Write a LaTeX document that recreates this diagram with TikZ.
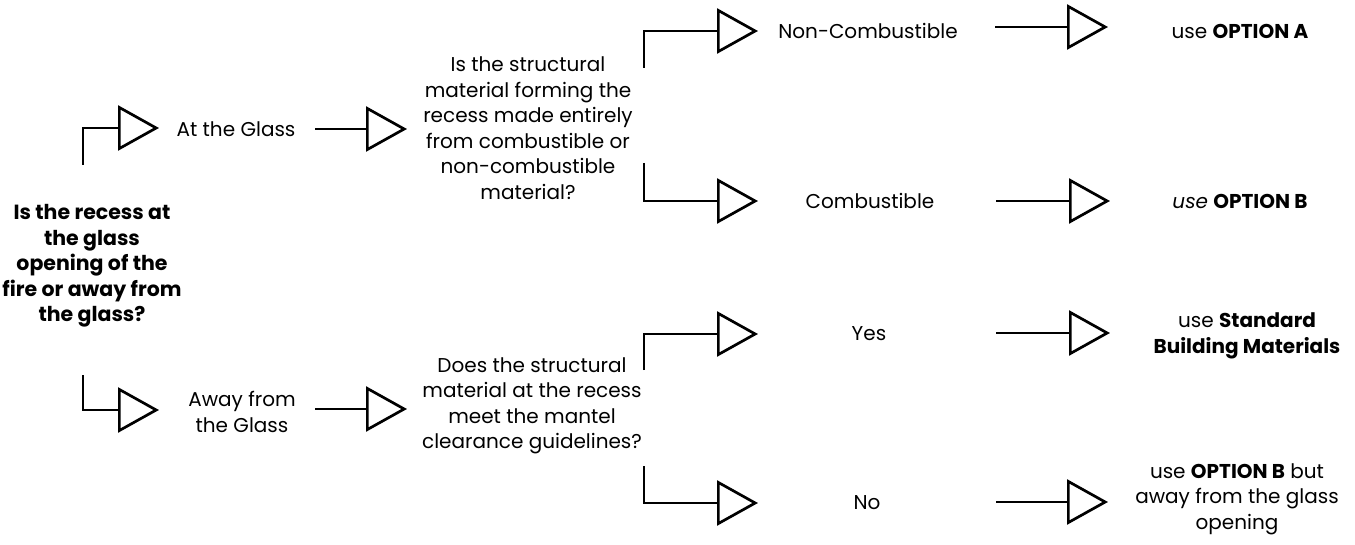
\documentclass[tikz,border=0pt]{standalone}
\usepackage{fontspec}
\setmainfont{Poppins}
\usetikzlibrary{arrows.meta}
\tikzset{
  conn/.style={draw=black, line width=2.7pt, line join=miter,
    -{Triangle[open,length=41pt,width=45pt,line join=miter]}},
  txt/.style={align=center, inner sep=0pt, font=\fontsize{20}{25.5}\selectfont},
  btxt/.style={txt, font=\fontsize{20.5}{25.5}\selectfont\bfseries},
}
\begin{document}
\begin{tikzpicture}[x=1pt,y=-1pt]
\useasboundingbox (0,0) rectangle (1355,545);
% text nodes
\node[btxt] (q0) at (92,266) {Is the recess at\\the glass\\opening of the\\fire or away from\\the glass?};
\node[txt] (a1) at (236,129) {At the Glass};
\node[txt] (a2) at (242,412) {Away from\\the Glass};
\node[txt] (q1) at (528,128) {Is the structural\\material forming the\\recess made entirely\\from combustible or\\non-combustible\\material?};
\node[txt] (q2) at (532,406) {Does the structural\\material at the recess\\meet the mantel\\clearance guidelines?};
\node[txt] (o1) at (868,31) {Non-Combustible};
\node[txt] (o2) at (870,201) {Combustible};
\node[txt] (o3) at (869,334) {Yes};
\node[txt] (o4) at (867,503) {No};
\node[txt] (r1) at (1240,31) {use \textbf{OPTION A}};
\node[txt] (r2) at (1240,201) {\textit{use} \textbf{OPTION B}};
\node[txt] (r3) at (1247,336) {use \textbf{Standard}\\\textbf{Building Materials}};
\node[txt] (r4) at (1237,499) {use \textbf{OPTION B} but\\away from the glass\\opening};
% connector end points
\coordinate (s1) at (83,165);  \coordinate (e1) at (159,128);
\coordinate (s2) at (83,375);  \coordinate (e2) at (159,410);
\coordinate (s3) at (315,129); \coordinate (e3) at (407,129);
\coordinate (s4) at (315,409); \coordinate (e4) at (407,409);
\coordinate (s5) at (644,68);  \coordinate (e5) at (758,31);
\coordinate (s6) at (644,163); \coordinate (e6) at (758,201);
\coordinate (s7) at (644,370); \coordinate (e7) at (758,334);
\coordinate (s8) at (644,466); \coordinate (e8) at (758,503);
\coordinate (s9) at (995,27);  \coordinate (e9) at (1108,27);
\coordinate (s10) at (996,201); \coordinate (e10) at (1110,201);
\coordinate (s11) at (996,333); \coordinate (e11) at (1110,333);
\coordinate (s12) at (996,502); \coordinate (e12) at (1108,502);
% connectors
\draw[conn] (s1) |- (e1);
\draw[conn] (s2) |- (e2);
\draw[conn] (s3) -- (e3);
\draw[conn] (s4) -- (e4);
\draw[conn] (s5) |- (e5);
\draw[conn] (s6) |- (e6);
\draw[conn] (s7) |- (e7);
\draw[conn] (s8) |- (e8);
\draw[conn] (s9) -- (e9);
\draw[conn] (s10) -- (e10);
\draw[conn] (s11) -- (e11);
\draw[conn] (s12) -- (e12);
\end{tikzpicture}
\end{document}
